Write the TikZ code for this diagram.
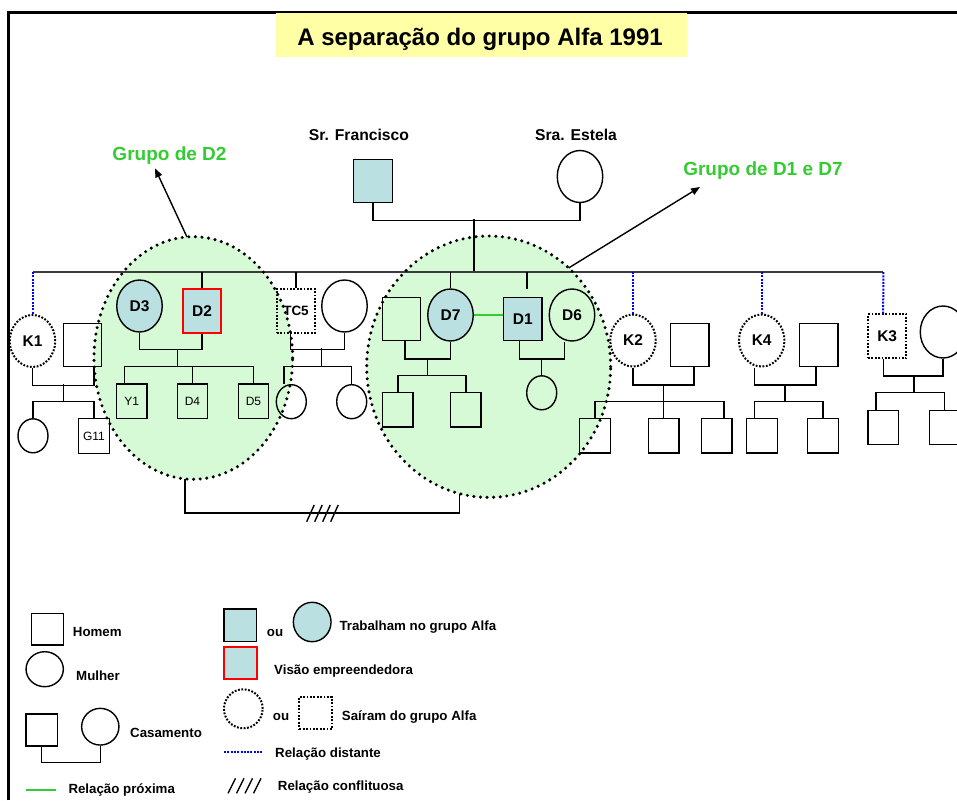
\documentclass[tikz,border=0pt]{standalone}
\usepackage{fontspec}
\setmainfont{Liberation Sans}
\usetikzlibrary{shapes.geometric,arrows.meta}
\definecolor{tealf}{RGB}{187,224,226}
\definecolor{grpfill}{RGB}{214,250,214}
\definecolor{titley}{RGB}{255,255,165}
\definecolor{grpgreen}{RGB}{51,204,51}
\definecolor{sibgray}{RGB}{60,60,60}
\begin{document}
\begin{tikzpicture}[x=1pt,y=-1pt,
  pline/.style={line width=1.4pt},
  sibline/.style={line width=2pt, draw=sibgray},
  msq/.style={draw, line width=1.4pt, rectangle, inner sep=0pt, minimum width=38.5pt, minimum height=43.5pt},
  msqs/.style={draw, line width=1.4pt, rectangle, inner sep=0pt, minimum width=30.5pt, minimum height=34.5pt},
  fci/.style={draw, line width=1.4pt, ellipse, inner sep=0pt, minimum width=45.5pt, minimum height=52pt},
  fcis/.style={draw, line width=1.4pt, ellipse, inner sep=0pt, minimum width=30pt, minimum height=34pt},
  alfa/.style={fill=tealf},
  visao/.style={draw=red, line width=2pt},
  leftalfa/.style={line width=2pt, dash pattern=on 1.8pt off 1.6pt},
  distant/.style={draw=blue, line width=2pt, dash pattern=on 2pt off 1.3pt},
  nearrel/.style={draw=grpgreen, line width=2pt},
  nlabel/.style={font=\fontsize{15.5}{18}\selectfont\bfseries},
  slabel/.style={font=\fontsize{12}{14}\selectfont},
  pname/.style={font=\fontsize{15.7}{18}\selectfont\bfseries, anchor=base},
  legtxt/.style={font=\fontsize{13.3}{15}\selectfont\bfseries, anchor=base west, inner sep=0pt},
  grptxt/.style={font=\fontsize{19}{22}\selectfont\bfseries, text=grpgreen, anchor=base, inner sep=0pt},
  bigE/.style={ellipse, inner sep=0pt, outer sep=0pt},
  bigdots/.style={draw, line width=3.4pt, dash pattern=on 0pt off 6.6pt, line cap=round},
  pointer/.style={line width=1.4pt, -{Triangle[length=9pt,width=7pt]}}
]
\useasboundingbox (0,0) rectangle (957,800);
\fill[white] (0,0) rectangle (957,800);

% frame
\coordinate (fBL) at (8.3,800);
\coordinate (fTL) at (8.3,12.3);
\coordinate (fTR) at (957,12.3);
\draw[line width=2.5pt] (fBL) -- (fTL) -- (fTR);

% title
\node[fill=titley, minimum width=411pt, minimum height=44pt, inner sep=0pt] (titlebox) at (481.5,35.3) {};
\node[font=\fontsize{24}{28}\selectfont\bfseries, anchor=base, inner sep=0pt] (title) at (480,45.7) {A separação do grupo Alfa 1991};

% group ellipse fills
\node[bigE, fill=grpfill, minimum width=198.6pt, minimum height=242.6pt] (E1) at (193.3,358) {};
\node[bigE, fill=grpfill, minimum width=244pt, minimum height=261.4pt] (E2) at (488.7,366.7) {};

% parents
\node[msq, alfa] (fran) at (373,181) {};
\node[fci] (estela) at (580,176.5) {};
\node[pname] (franL) at (359,140.7) {Sr. Francisco};
\node[pname] (estL) at (576,140.7) {Sra. Estela};
\draw[pline] (fran.south) -- ++(0,16.8) -| (estela.south);
\coordinate (pm) at (474,219.3);
\coordinate (sib) at (474,272);
\draw[pline] (pm) -- (sib);

% sibling line
\coordinate (sibL) at (32.5,272);
\coordinate (sibR) at (883.3,272);
\draw[sibline] (sibL) -- (sibR);

% K1 family
\node[fci, leftalfa, nlabel] (K1) at (32.5,341) {K1};
\node[msq] (K1m) at (82.5,345) {};
\draw[distant] (sibL) -- (K1.north);
\draw[pline] (K1.south) -- ++(0,17.3) -| ([xshift=11.5pt]K1m.south);
\coordinate (k1a) at (63.3,384.3);
\coordinate (k1b) at (63.3,401.7);
\draw[pline] (k1a) -- (k1b);
\node[fcis] (K1c) at (33,435.8) {};
\node[msqs, slabel] (G11) at (94,436) {G11};
\draw[pline] (K1c.north) |- (k1b) -| (G11.north);

% D2 family
\node[fci, alfa, nlabel] (D3) at (139.5,306) {D3};
\node[msq, alfa, visao, nlabel] (D2) at (202,311) {D2};
\draw[pline] (D2.north |- sib) -- (D2.north);
\draw[pline] (D3.south) -- ++(0,17) -| (D2.south);
\coordinate (d2a) at (177.3,349);
\coordinate (d2b) at (177.3,366.7);
\draw[pline] (d2a) -- (d2b);
\node[msqs, slabel] (Y1) at (131.8,401.2) {Y1};
\node[msqs, slabel] (D4) at (192.5,401.2) {D4};
\node[msqs, slabel] (D5) at (253.5,401.2) {D5};
\coordinate (y1t) at ([xshift=-7.5pt]Y1.north);
\draw[pline] (y1t) |- (d2b) -| (D5.north);
\draw[pline] (D4.north) -- (D4.north |- d2b);

% TC5 family
\node[msq, leftalfa, font=\fontsize{13.5}{16}\selectfont\bfseries] (TC5) at (296,311) {TC5};
\node[fci] (TC5w) at (344.5,306) {};
\draw[pline] (TC5.north |- sib) -- (TC5.north);
\draw[pline] ([xshift=-5.3pt]TC5.south) -- ++(0,15.6) -| (TC5w.south);
\coordinate (t5a) at (321.7,348.3);
\coordinate (t5b) at (321.7,366.7);
\draw[pline] (t5a) -- (t5b);
\node[fcis] (T5c1) at (291.3,401.7) {};
\node[fcis] (T5c2) at (351.7,401.7) {};
\draw[pline] ([xshift=-7.3pt]T5c1.north) |- (t5b) -| (T5c2.north);

% D7 / D1 families
\node[msq] (D7m) at (401.5,319) {};
\node[fci, alfa, nlabel] (D7) at (450.5,315) {D7};
\node[msq, alfa, nlabel] (D1) at (522.8,319) {D1};
\node[fci, nlabel] (D6) at (572,315) {D6};
\draw[pline] (D7.north |- sib) -- (D7.north);
\coordinate (d1top) at ([xshift=4pt]D1.north);
\draw[pline] (d1top |- sib) -- ([yshift=8pt]d1top);
\draw[nearrel] (D7.east) -- (D7.east -| D1.west);
\draw[pline] ([xshift=3.5pt]D7m.south) -- ++(0,17.5) -| (D7.south);
\coordinate (d7a) at (427.7,358.3);
\coordinate (d7b) at (427.7,375.7);
\draw[pline] (d7a) -- (d7b);
\node[msqs] (D7c1) at (397.8,409.8) {};
\node[msqs] (D7c2) at (465.8,409.8) {};
\draw[pline] (D7c1.north) |- (d7b) -| (D7c2.north);
\draw[pline] ([xshift=-3.5pt]D1.south) -- ++(0,17.5) -| ([xshift=-7.7pt]D6.south);
\coordinate (d1a) at (541.7,358.3);
\node[fcis] (D1c) at (541.7,392.8) {};
\draw[pline] (d1a) -- (D1c.north);

% K2 family
\node[fci, leftalfa, nlabel] (K2) at (633,340.5) {K2};
\node[msq] (K2m) at (689.8,345) {};
\draw[distant] (K2.north |- sib) -- (K2.north);
\draw[pline] (K2.south) -- ++(0,17.5) -| ([xshift=4pt]K2m.south);
\coordinate (k2a) at (663.7,384);
\coordinate (k2b) at (663.7,401.7);
\node[msqs] (K2c1) at (595,435.8) {};
\node[msqs] (K2c2) at (663.7,435.8) {};
\node[msqs] (K2c3) at (716.7,435.8) {};
\draw[pline] (K2c1.north) |- (k2b) -| ([xshift=7.3pt]K2c3.north);
\draw[pline] (k2a) -- (K2c2.north);

% K4 family
\node[fci, leftalfa, nlabel] (K4) at (761.7,340.5) {K4};
\node[msq] (K4m) at (818.8,345) {};
\draw[distant] (K4.north |- sib) -- (K4.north);
\draw[pline] ([xshift=-7.4pt]K4.south) -- ++(0,17.5) -| ([xshift=-3pt]K4m.south);
\coordinate (k4a) at (785,384);
\coordinate (k4b) at (785,401.7);
\draw[pline] (k4a) -- (k4b);
\node[msqs] (K4c1) at (762,435.8) {};
\node[msqs] (K4c2) at (823,435.8) {};
\draw[pline] ([xshift=-7.7pt]K4c1.north) |- (k4b) -| (K4c2.north);

% K3 family
\node[msq, leftalfa, nlabel, minimum height=44pt] (K3) at (887.2,336.3) {K3};
\node[fci] (K3w) at (943,332) {};
\coordinate (k3top) at ([xshift=-4pt]K3.north);
\draw[distant] (sibR) -- (k3top);
\draw[pline] ([xshift=-4pt]K3.south) -- ++(0,16.7) -| (K3w.south);
\coordinate (k3a) at (914,374.8);
\coordinate (k3b) at (914,392.7);
\draw[pline] (k3a) -- (k3b);
\node[msqs] (K3c1) at (883.3,427.5) {};
\node[msqs] (K3c2) at (944.5,427.5) {};
\draw[pline] ([xshift=-7.3pt]K3c1.north) |- (k3b) -| (K3c2.north);

% group ellipse borders
\node[bigE, bigdots, minimum width=198.6pt, minimum height=242.6pt] (E1b) at (E1) {};
\node[bigE, bigdots, minimum width=244pt, minimum height=261.4pt] (E2b) at (E2) {};

% group labels and pointers
\node[grptxt] (g2) at (169.5,160) {Grupo de D2};
\node[grptxt] (g17) at (763,175) {Grupo de D1 e D7};
\coordinate (g2tip) at (155,168.3);
\coordinate (g17tip) at (700,187);
\draw[pointer] (E1b.93.4) -- (g2tip);
\draw[pointer] (E2b.51.2) -- (g17tip);

% conflict between groups
\draw[pline] (E1b.266) -- ++(0,34) -| (E2b.257);
\coordinate (hatch) at (306.7,521.7);
\foreach \i in {0,1,2,3} \draw[pline] ([xshift={\i*8pt}]hatch) -- ++(7.5,-16.7);

% legend
\node[draw, line width=1.4pt, inner sep=0pt, minimum width=31.6pt, minimum height=31.7pt] (lgM) at (47.5,629.2) {};
\node[legtxt] (lgMt) at (72.7,636.7) {Homem};
\node[draw, ellipse, line width=1.4pt, inner sep=0pt, minimum width=37.3pt, minimum height=35pt] (lgF) at (44.7,669.2) {};
\node[legtxt] (lgFt) at (76,680.7) {Mulher};
\node[draw, line width=1.4pt, inner sep=0pt, minimum width=31.3pt, minimum height=32pt] (lgCm) at (41.7,730) {};
\node[draw, ellipse, line width=1.4pt, inner sep=0pt, minimum width=37.3pt, minimum height=36.7pt] (lgCf) at (100.3,726.7) {};
\draw[pline] (lgCm.south) -- ++(0,15.7) -| (lgCf.south);
\node[legtxt] (lgCt) at (130,737.7) {Casamento};
\coordinate (lgG1) at (26,790);
\coordinate (lgG2) at (56,790);
\draw[nearrel] (lgG1) -- (lgG2);
\node[legtxt] (lgGt) at (68.3,793.3) {Relação próxima};

\node[draw, alfa, line width=1.4pt, inner sep=0pt, minimum width=32.7pt, minimum height=32.7pt] (lgW1) at (240.3,625.3) {};
\node[legtxt] (lgou1) at (266.7,636.7) {ou};
\node[draw, alfa, ellipse, line width=1.4pt, inner sep=0pt, minimum width=37.7pt, minimum height=39.4pt] (lgW2) at (312.2,622) {};
\node[legtxt] (lgWt) at (339.3,630.7) {Trabalham no grupo Alfa};
\node[alfa, visao, inner sep=0pt, minimum width=33pt, minimum height=32.6pt] (lgV) at (240.7,663) {};
\node[legtxt] (lgVt) at (274,674) {Visão empreendedora};
\node[draw, ellipse, leftalfa, inner sep=0pt, minimum width=38.7pt, minimum height=39pt] (lgS1) at (243.3,708.8) {};
\node[legtxt] (lgou2) at (272.7,720.7) {ou};
\node[draw, leftalfa, inner sep=0pt, minimum width=32.4pt, minimum height=32.6pt] (lgS2) at (315.5,713) {};
\node[legtxt] (lgSt) at (341.7,720.7) {Saíram do grupo Alfa};
\coordinate (lgB1) at (224,752.3);
\coordinate (lgB2) at (262.7,752.3);
\draw[distant] (lgB1) -- (lgB2);
\node[legtxt] (lgBt) at (275,757.3) {Relação distante};
\coordinate (lgH) at (228,793.3);
\foreach \i in {0,1,2,3} \draw[pline] ([xshift={\i*8.5pt}]lgH) -- ++(7.5,-15);
\node[legtxt] (lgHt) at (277.7,790) {Relação conflituosa};
\end{tikzpicture}
\end{document}
